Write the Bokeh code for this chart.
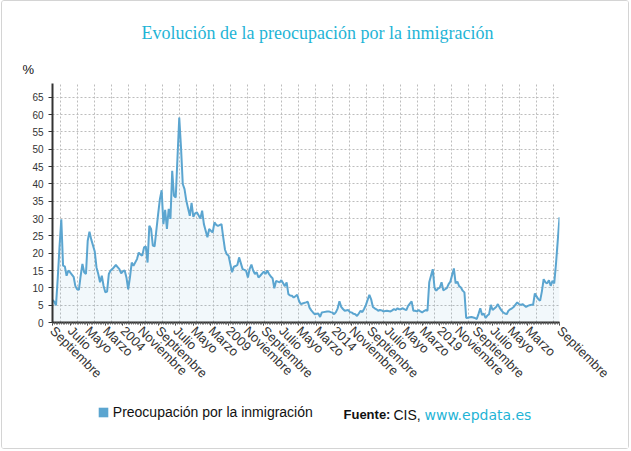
import math
from bokeh.plotting import figure
from bokeh.layouts import column
from bokeh.models import ColumnDataSource, FixedTicker, Range1d, Label, Legend, LegendItem
from bokeh.embed import file_html
from bokeh.resources import INLINE

# ---- data: CIS monthly barometer (no August survey), % citing immigration ----
v2000 = [6.5, 6.0, 5.0, 13.0]
v2001 = [22.0, 29.8, 16.4, 16.2, 13.5, 15.0, 14.5, 13.2, 10.5, 9.6, 9.4]
v2002 = [13.5, 16.9, 14.5, 14.0, 23.6, 26.2, 24.0, 20.5, 15.9, 14.0, 11.6]
v2003 = [13.5, 10.6, 8.7, 8.9, 14.0, 15.0, 15.4, 16.6, 16.0, 15.4, 14.2]
v2004 = [14.8, 15.0, 13.0, 9.6, 13.0, 17.3, 16.4, 18.3, 20.2, 19.6, 19.3]
v2005 = [21.7, 22.0, 17.3, 27.9, 27.0, 22.2, 22.0, 31.3, 35.6, 38.2, 28.4]
v2006 = [32.5, 27.0, 32.8, 29.9, 43.8, 36.6, 36.1, 59.2, 50.6, 40.0, 38.5]
v2007 = [35.2, 33.0, 30.8, 34.5, 30.5, 31.5, 31.8, 30.0, 32.3, 28.4, 26.5]
v2008 = [24.6, 27.0, 26.5, 26.0, 28.9, 28.2, 27.9, 28.4, 24.5, 21.0, 19.7]
v2009 = [19.3, 16.9, 14.5, 16.1, 16.3, 16.6, 18.8, 15.4, 15.2, 14.9, 13.0]
v2010 = [15.5, 16.7, 15.0, 14.0, 14.5, 13.0, 13.5, 14.7, 14.0, 15.0, 14.0]
v2011 = [13.3, 12.8, 9.9, 12.0, 11.8, 11.6, 12.2, 10.5, 11.6, 8.2, 7.8]
v2012 = [7.7, 7.2, 7.6, 8.0, 6.3, 5.3, 5.5, 5.8, 6.0, 4.3, 3.5]
v2013 = [2.9, 2.4, 2.5, 2.6, 1.6, 2.9, 3.0, 3.2, 3.2, 3.0, 2.9]
v2014 = [2.4, 3.0, 4.1, 6.1, 4.5, 3.9, 3.4, 3.6, 3.0, 2.9, 2.5]
v2015 = [2.4, 1.9, 2.6, 3.4, 3.0, 3.9, 5.0, 8.0, 6.7, 4.5, 4.1]
v2016 = [3.8, 3.4, 3.6, 3.5, 3.2, 3.3, 3.4, 3.2, 3.5, 3.9, 3.6]
v2017 = [4.1, 3.8, 3.9, 4.1, 3.8, 3.6, 4.8, 6.1, 3.4, 3.4, 3.2]
v2018 = [3.6, 3.2, 2.9, 3.3, 3.6, 3.4, 11.6, 15.4, 10.1, 9.2, 9.8]
v2019 = [10.1, 11.6, 9.3, 9.6, 9.9, 11.1, 11.8, 15.6, 11.3, 11.8, 10.5]
v2020 = [10.1, 9.2, 8.7, 1.3, 1.4, 1.5, 1.6, 1.3, 1.0, 2.5, 4.1]
v2021 = [2.2, 2.6, 1.3, 2.0, 2.4, 5.1, 3.6, 4.5, 5.3, 4.3, 3.5]
v2022 = [2.9, 2.6, 2.4, 3.4, 3.8, 4.1, 4.5, 5.8, 5.3, 5.1, 5.3]
v2023 = [4.9, 4.5, 4.8, 5.0, 5.1, 5.1, 8.4, 6.7, 6.3, 9.0, 12.5]
v2024 = [11.6, 11.3, 12.2, 10.6, 12.0, 11.3, 16.9, 30.4]

years = list(range(2000, 2025))
yearly = [v2000, v2001, v2002, v2003, v2004, v2005, v2006, v2007, v2008, v2009,
          v2010, v2011, v2012, v2013, v2014, v2015, v2016, v2017, v2018, v2019,
          v2020, v2021, v2022, v2023, v2024]

x_tick_labels = ["Septiembre", "Julio", "Mayo", "Marzo", "2004", "Noviembre",
                 "Septiembre", "Julio", "Mayo", "Marzo", "2009", "Noviembre",
                 "Septiembre", "Julio", "Mayo", "Marzo", "2014", "Noviembre",
                 "Septiembre", "Julio", "Mayo", "Marzo", "2019", "Noviembre",
                 "Septiembre", "Julio", "Mayo", "Marzo", "Septiembre"]

title_text = "Evolución de la preocupación por la inmigración"
series_name = "Preocupación por la inmigración"


def months_of(year):
    if year == 2000:
        return [9, 10, 11, 12]
    if year == 2024:
        return [1, 2, 3, 4, 5, 6, 7, 9]
    return [1, 2, 3, 4, 5, 6, 7, 9, 10, 11, 12]


xs, ys = [], []
for yr, vals in zip(years, yearly):
    ms = months_of(yr)
    assert len(ms) == len(vals)
    for mo, v in zip(ms, vals):
        xs.append(12 * (yr - 2000) + mo - 9)   # months since Sep 2000
        ys.append(v)

src = ColumnDataSource(dict(x=xs, y=ys, y0=[0] * len(xs)))

LINE = "#5ba5d0"
TEAL = "#1fb4d6"
TXT = "#333333"
W = 626


def blank(height):
    f = figure(width=W, height=height, output_backend="svg", toolbar_location=None,
               x_range=Range1d(0, W), y_range=Range1d(height, 0),
               min_border_left=0, min_border_right=0, min_border_top=0,
               min_border_bottom=0, x_axis_location=None, y_axis_location=None)
    if "frame_align" in type(f).properties():
        f.frame_align = False
    f.grid.visible = False
    f.outline_line_color = None
    f.background_fill_color = "white"
    f.border_fill_color = "white"
    return f


# ---------- header (title + "%") ----------
head = blank(82)
head.add_layout(Label(x=315, y=31, text=title_text, text_align="center",
                      text_baseline="alphabetic", text_font="Liberation Serif",
                      text_font_size="18px", text_color=TEAL))
head.add_layout(Label(x=20, y=68, text="%", text_align="left",
                      text_baseline="alphabetic", text_font="Liberation Sans",
                      text_font_size="13px", text_color="#111111"))

# ---------- main chart ----------
p = figure(width=W, height=317, output_backend="svg", toolbar_location=None,
           x_range=Range1d(0, 288), y_range=Range1d(0, 69),
           min_border_left=50, min_border_right=69, min_border_top=0,
           min_border_bottom=78)
if "frame_align" in type(p).properties():
    p.frame_align = False
p.outline_line_color = None
p.background_fill_color = "white"
p.border_fill_color = "white"

p.varea(x="x", y1="y0", y2="y", source=src, fill_color=LINE, fill_alpha=0.08)
p.line("x", "y", source=src, line_color=LINE, line_width=2)

tick_pos = list(range(0, 271, 10)) + [288]
xa = p.xaxis[0]
xa.ticker = FixedTicker(ticks=tick_pos, minor_ticks=list(range(0, 289)))
xa.major_label_overrides = {t: lab for t, lab in zip(tick_pos, x_tick_labels)}
xa.major_label_orientation = -math.pi / 4
xa.major_label_text_font = "Liberation Sans"
xa.major_label_text_font_size = "13px"
xa.major_label_text_color = TXT
xa.major_label_standoff = 3
xa.axis_line_width = 2
xa.axis_line_color = "#333333"
xa.major_tick_out = 3
xa.major_tick_in = 0
xa.major_tick_line_color = "#333333"
xa.minor_tick_out = 2
xa.minor_tick_in = 0
xa.minor_tick_line_color = "#666666"

ya = p.yaxis[0]
ya.ticker = FixedTicker(ticks=list(range(0, 70, 5)), minor_ticks=[])
ya.major_label_text_font = "Liberation Sans"
ya.major_label_text_font_size = "10px"
ya.major_label_text_color = TXT
ya.major_label_standoff = 5
ya.axis_line_width = 2
ya.axis_line_color = "#333333"
ya.major_tick_out = 4
ya.major_tick_in = 0
ya.major_tick_line_color = "#333333"

p.xgrid.ticker = FixedTicker(ticks=[4.78 + 9.64 * k for k in range(30)])
for g in (p.xgrid[0], p.ygrid[0]):
    g.grid_line_color = "#bdbdbd"
    g.grid_line_dash = "2 2"
    g.grid_line_width = 1

# ---------- footer (legend + source) ----------
foot = blank(48)
# legend proxy: the same series, hidden here, drawn only as a solid swatch
proxy = foot.varea(x="x", y1="y0", y2="y", source=src, fill_color=LINE,
                   fill_alpha=1.0, visible=False)
legend = Legend(items=[LegendItem(label=series_name, renderers=[proxy])],
                location=(94.8, 28.5), orientation="horizontal", padding=0, margin=0,
                spacing=0, border_line_color=None, background_fill_alpha=0,
                inactive_fill_alpha=0, click_policy="none",
                glyph_width=12, glyph_height=12, label_height=12, label_standoff=4,
                label_text_font="Liberation Sans", label_text_font_size="14px",
                label_text_color="#111111")
foot.add_layout(legend)
foot.add_layout(Label(x=341, y=14, text="Fuente:", text_baseline="alphabetic",
                      text_font="Liberation Sans", text_font_style="bold",
                      text_font_size="13px", text_color="#111111"))
foot.add_layout(Label(x=391, y=14, text="CIS,", text_baseline="alphabetic",
                      text_font="Liberation Sans", text_font_size="14px",
                      text_color="#111111"))
foot.add_layout(Label(x=422, y=14, text="www.epdata.es", text_baseline="alphabetic",
                      text_font="DejaVu Sans", text_font_size="14px",
                      text_color=TEAL))

layout = column(head, p, foot, spacing=0,
                styles={"border": "1px solid #d4d4d4", "border-radius": "3px",
                        "margin-left": "1px"})

open("out.html", "w").write(file_html(layout, INLINE))
